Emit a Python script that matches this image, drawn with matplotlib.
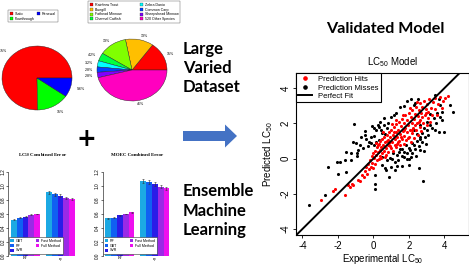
import numpy as np
import matplotlib
matplotlib.use('Agg')
import matplotlib.pyplot as plt
from matplotlib.patches import FancyArrow, Patch
from matplotlib.lines import Line2D

plt.rcParams['font.family'] = ['Liberation Sans', 'DejaVu Sans']
plt.rcParams['mathtext.default'] = 'regular'

# --- pie 1: test type
exp_labels = ['Static', 'Flowthrough', 'Renewal']
exp_pct = [75, 15, 9.6]
exp_colors = ['#FF0000', '#00FF00', '#0000FF']

# --- pie 2: species
sp_labels = ['Rainbow Trout', 'Bluegill', 'Fathead Minnow', 'Channel Catfish',
             'Zebra Danio', 'Common Carp', 'Sheepshead Minnow', '520 Other Species']
sp_pct = [15, 13, 13, 4.2, 3.2, 2.8, 2.8, 46]
sp_colors = ['#FF0000', '#FFBF00', '#80FF00', '#00FF40',
             '#00FFFF', '#0040FF', '#8000FF', '#FF00BF']

# --- bar charts
metric_labels = ['R²', 'r$_p$']
bar_colors = ['#1CA9E3', '#1060F2', '#2A1CE8', '#9A2AE6', '#EE10EE']

lc50_models = ['GBT', 'RF', 'SVR', 'Fast Method', 'Full Method']
lc50_r2 = [0.52, 0.55, 0.56, 0.59, 0.60]
lc50_rp = [0.91, 0.88, 0.86, 0.83, 0.82]
lc50_r2_err = [0.005, 0.005, 0.005, 0.005, 0.005]
lc50_rp_err = [0.025, 0.02, 0.02, 0.015, 0.015]

moec_models = ['RF', 'GBT', 'SVR', 'Fast Method', 'Full Method']
moec_r2 = [0.54, 0.55, 0.58, 0.60, 0.625]
moec_rp = [1.07, 1.06, 1.03, 0.99, 0.97]
moec_r2_err = [0.005, 0.005, 0.005, 0.005, 0.005]
moec_rp_err = [0.03, 0.025, 0.025, 0.02, 0.02]

# --- scatter: experimental vs predicted LC50
hits = [(-2.95, -2.33), (-2.3, -1.85), (-2.15, -1.72), (-1.62, -2.08), (-1.45, -1.5),
        (-1.3, -1.6), (-1.22, -1.42), (-1.15, -1.5), (-0.85, -1.2), (-0.75, -1.3),
        (-0.65, -0.95), (-0.55, -1.05), (-0.5, -0.7), (-0.42, -0.5), (-0.35, -0.85),
        (-0.3, -0.3), (-0.25, -0.6), (-0.2, -0.1), (-0.15, -0.45), (-0.1, 0.15),
        (-0.05, -0.25), (0.0, 0.3), (0.0, -0.55), (0.05, 0.05), (0.1, -0.3),
        (0.1, 0.45), (0.15, 0.2), (0.2, -0.1), (0.2, 0.65), (0.25, 0.35),
        (0.3, 0.0), (0.3, 0.85), (0.35, 0.5), (0.4, 0.15), (0.4, 1.0),
        (0.45, 0.65), (0.5, 0.3), (0.5, 1.1), (0.55, 0.8), (0.6, 0.45),
        (0.6, 1.25), (0.65, 0.95), (0.7, 0.2), (0.7, 0.6), (0.75, 1.35),
        (0.8, 0.75), (0.8, 1.05), (0.85, 0.4), (0.9, 1.5), (0.9, 0.9),
        (0.95, 1.2), (1.0, 0.6), (1.0, 1.65), (1.05, 0.95), (1.1, 1.35),
        (1.1, 0.45), (1.15, 1.8), (1.2, 0.8), (1.2, 1.1), (1.25, 1.5),
        (1.3, 0.65), (1.3, 1.95), (1.35, 1.25), (1.4, 0.95), (1.4, 1.65),
        (1.45, 2.1), (1.5, 1.4), (1.5, 0.75), (1.55, 1.85), (1.6, 1.1),
        (1.6, 2.25), (1.65, 1.55), (1.7, 0.85), (1.7, 2.0), (1.75, 1.3),
        (1.8, 1.75), (1.8, 2.45), (1.85, 1.05), (1.9, 1.5), (1.9, 2.2),
        (1.95, 1.9), (2.0, 1.25), (2.0, 2.6), (2.05, 1.65), (2.1, 2.35),
        (2.1, 0.95), (2.15, 2.0), (2.2, 1.45), (2.2, 2.75), (2.25, 1.75),
        (2.3, 2.25), (2.3, 1.15), (2.35, 2.55), (2.4, 1.6), (2.4, 2.95),
        (2.45, 2.0), (2.5, 1.35), (2.5, 2.4), (2.55, 2.75), (2.6, 1.8),
        (2.6, 3.15), (2.65, 2.2), (2.7, 2.6), (2.7, 1.55), (2.75, 2.95),
        (2.8, 2.0), (2.85, 3.3), (2.9, 2.45), (2.95, 2.8), (3.0, 1.9),
        (3.0, 3.1), (3.05, 2.3), (3.1, 2.65), (3.15, 3.4), (3.2, 2.1),
        (3.25, 2.9), (3.3, 2.5), (3.35, 3.2), (3.45, 2.8), (3.5, 3.45),
        (3.6, 2.5), (3.65, 3.1), (3.75, 3.5), (3.85, 2.9), (3.95, 3.3),
        (4.05, 3.45), (4.2, 3.55), (0.25, 0.75), (0.45, 0.05), (0.75, 1.0),
        (0.95, 0.7), (1.15, 1.5), (1.35, 0.85), (1.55, 1.2), (1.75, 1.6),
        (1.95, 1.15), (2.15, 1.65), (2.35, 1.9), (2.55, 2.1), (2.75, 2.35),
        (2.95, 2.6), (1.05, 1.95), (1.25, 2.2), (1.65, 2.5), (2.05, 2.9),
        (2.45, 3.2), (0.55, 1.5), (0.15, 0.9), (0.65, 0.1), (1.45, 1.0)]

misses = [(-3.65, -2.65), (-2.74, -2.04), (-2.55, -0.47), (-2.03, -0.19), (-1.99, -0.89),
          (-1.9, -0.22), (-1.56, -0.75), (-1.62, -0.09), (-1.52, 0.38), (-1.24, 0.29),
          (-1.24, -0.09), (-1.14, 0.95), (-1.11, 1.99), (-0.96, 0.86), (-0.92, 0.29),
          (-0.92, 0.14), (-0.86, 0.48), (-0.77, 0.76), (-0.7, 1.25), (-0.6, 0.6),
          (-0.49, 1.33), (-0.45, 1.55), (-0.39, 1.14), (-0.3, 0.7), (-0.24, 0.95),
          (-0.15, 1.2), (-0.11, 0.86), (-0.05, 1.85), (0.02, 0.76), (0.02, 1.71),
          (0.05, 1.3), (0.17, 1.61), (0.17, 0.95), (0.25, 1.9), (0.32, 1.8),
          (0.32, 1.05), (0.4, 2.1), (0.45, 1.65), (0.5, 1.45), (0.58, 1.9),
          (0.62, 2.28), (0.66, 1.42), (0.75, 1.75), (0.85, 2.05), (1.0, 2.35),
          (1.15, 2.5), (1.3, 2.6), (1.5, 2.95), (1.7, 3.0), (1.9, 3.26),
          (2.14, 3.36), (2.27, 3.03), (2.37, 3.17), (2.5, 3.4), (3.49, 3.6),
          (3.68, 3.41), (3.77, 3.03), (4.34, 3.03), (4.49, 2.62), (3.87, 2.66),
          (3.6, 2.6), (3.21, 2.56), (3.74, 2.37), (3.4, 2.3), (3.87, 2.18),
          (3.02, 2.09), (3.55, 2.0), (3.21, 1.9), (2.65, 1.9), (3.3, 1.75),
          (2.83, 1.71), (3.02, 1.61), (3.49, 1.61), (2.27, 1.61), (3.68, 1.52),
          (3.96, 1.52), (2.75, 1.45), (2.46, 1.42), (3.1, 1.35), (2.6, 1.25),
          (2.9, 1.2), (2.65, 1.14), (2.45, 1.0), (2.74, 0.95), (2.15, 0.9),
          (2.95, 0.85), (2.27, 0.76), (1.85, 0.75), (2.55, 0.7), (2.0, 0.6),
          (1.52, 0.57), (1.6, 0.55), (2.35, 0.55), (2.08, 0.48), (2.65, 0.48),
          (2.83, 0.44), (1.75, 0.4), (1.45, 0.35), (2.2, 0.3), (1.9, 0.29),
          (1.1, 0.3), (1.34, 0.19), (2.4, 0.15), (1.61, 0.15), (2.1, 0.1),
          (1.75, 0.1), (0.49, 0.1), (0.96, 0.04), (1.06, -0.03), (1.9, -0.03),
          (2.01, -0.05), (0.77, -0.09), (1.4, -0.1), (1.2, -0.2), (0.51, -0.34),
          (1.99, -0.38), (1.34, -0.41), (1.63, -0.43), (1.0, -0.47), (2.55, -0.53),
          (0.64, -0.56), (0.73, -0.62), (1.24, -0.62), (0.07, -0.94), (0.88, -1.07),
          (2.78, -1.27), (0.07, -1.47), (0.11, -1.7)]

W, H = 469, 265
fig = plt.figure(figsize=(W / 100, H / 100), dpi=100)


def px_axes(x0, y0, x1, y1):
    # axes from a pixel box (origin top-left)
    return fig.add_axes([x0 / W, 1 - y1 / H, (x1 - x0) / W, (y1 - y0) / H])


# overlay in pixel coords for the free text and arrow
ov = px_axes(0, 0, W, H)
ov.set_xlim(0, W)
ov.set_ylim(H, 0)
ov.axis('off')

big = dict(family=['Lato', 'DejaVu Sans'], fontweight='bold', fontsize=12,
           va='center', ha='left')
for i, s in enumerate(['Large', 'Varied', 'Dataset']):
    ov.text(183, 49 + 19 * i, s, **big)
for i, s in enumerate(['Ensemble', 'Machine', 'Learning']):
    ov.text(183, 191 + 19.5 * i, s, **big)
ov.text(385, 29, 'Validated Model', family=['Lato', 'DejaVu Sans'],
        fontweight='bold', fontsize=11.6, ha='center', va='center')
ov.text(86, 139, '+', family='DejaVu Sans', fontweight='bold', fontsize=17,
        ha='center', va='center')
ov.add_patch(FancyArrow(183, 136, 54, 0, width=10, head_width=23, head_length=12,
                        length_includes_head=True, color='#4472C4', lw=0))

tiny = 2.6


def draw_pie(cx, cy, rx, ry, vals, cols, labs, dist, leg_xy, colsp, fmt):
    ax = px_axes(cx - 1.4 * rx, cy - 1.4 * ry, cx + 1.4 * rx, cy + 1.4 * ry)
    wedges, texts = ax.pie(vals, colors=cols, startangle=0, counterclock=True,
                           labels=[fmt(v) for v in vals], labeldistance=dist,
                           wedgeprops=dict(edgecolor='#222222', linewidth=0.3),
                           textprops=dict(fontsize=tiny))
    ax.set_aspect('auto')
    ax.set_xlim(-1.4, 1.4)
    ax.set_ylim(-1.4, 1.4)
    handles = [Patch(facecolor=c, edgecolor='#222222', linewidth=0.2) for c in cols]
    ax.legend(handles, labs, ncol=2, loc='upper left', bbox_to_anchor=leg_xy,
              bbox_transform=ov.transData, fontsize=tiny, frameon=True,
              fancybox=False, edgecolor='#555555', framealpha=1,
              handlelength=0.9, handleheight=0.9, handletextpad=0.5,
              labelspacing=0.2, columnspacing=colsp, borderpad=0.5,
              borderaxespad=0).get_frame().set_linewidth(0.3)
    return ax


def pct_fmt(v):
    return '%d%%' % v if v >= 10 else '%.1f%%' % v


draw_pie(37, 78, 35, 32, exp_pct, exp_colors, exp_labels, 1.2, (8, 10), 0.6, pct_fmt)
draw_pie(132, 70, 35, 31, sp_pct, sp_colors, sp_labels, 1.12, (88, 1), 5.0, pct_fmt)


def draw_bars(x_zero, models, r2, rp, r2_err, rp_err, title):
    unit = 5.82
    ax = px_axes(x_zero + 0.56 * unit, 256 - 1.248 * 70, x_zero + 12.44 * unit,
                 256 + 0.048 * 70)
    for i, m in enumerate(models):
        ax.bar([1.5 + i, 7.5 + i], [r2[i], rp[i]], width=1, color=bar_colors[i],
               yerr=[r2_err[i], rp_err[i]], label=m,
               error_kw=dict(elinewidth=0.4, capsize=1.0, capthick=0.4,
                             ecolor='#333333'))
    ax.set_xlim(0.56, 12.44)
    ax.set_ylim(-0.048, 1.248)
    for sp in ['top', 'right', 'bottom']:
        ax.spines[sp].set_visible(False)
    ax.spines['left'].set_bounds(0, 1.2)
    ax.spines['left'].set_linewidth(0.4)
    ax.set_yticks(np.arange(0, 1.21, 0.2))
    ax.set_yticklabels(['%.1f' % t for t in np.arange(0, 1.21, 0.2)],
                       rotation=90, va='center', fontsize=3.4)
    ax.tick_params(axis='y', length=1.5, width=0.4, pad=0.7)
    ax.set_xticks([3.5, 9.5])
    ax.set_xticklabels(metric_labels, fontsize=3.3, family='Liberation Serif')
    ax.tick_params(axis='x', length=0, pad=-2.5)
    ax.patch.set_alpha(0)
    leg = ax.legend(ncol=2, loc='upper left', bbox_to_anchor=(x_zero + 3.5, 237),
                    bbox_transform=ov.transData, fontsize=tiny, frameon=True,
                    fancybox=False, edgecolor='#333333', framealpha=1,
                    handlelength=0.9, handleheight=0.9, handletextpad=0.6,
                    labelspacing=0.25, columnspacing=3.5, borderpad=0.45,
                    borderaxespad=0)
    leg.get_frame().set_linewidth(0.4)
    ov.text((x_zero + 0.56 * unit + x_zero + 12.44 * unit) / 2, 155, title,
            family='Liberation Serif', fontweight='bold', fontsize=3.6,
            ha='center', va='center')
    return ax


draw_bars(5.2, lc50_models, lc50_r2, lc50_rp, lc50_r2_err, lc50_rp_err,
          'LC$_{50}$ Combined Error')
draw_bars(99.5, moec_models, moec_r2, moec_rp, moec_r2_err, moec_rp_err,
          'MOEC Combined Error')

# scatter
axs = px_axes(296, 73.4, 468.5, 235)
mx, my = zip(*misses)
hx, hy = zip(*hits)
axs.scatter(mx, my, s=5, color='black', linewidths=0, zorder=2)
axs.scatter(hx, hy, s=5, color='red', linewidths=0, zorder=3)
axs.axline((0, 0), slope=1, color='black', lw=1.4, zorder=4)
axs.set_xlim(-4.36, 5.36)
axs.set_ylim(-4.34, 4.84)
ticks = [-4, -2, 0, 2, 4]
axs.set_xticks(ticks)
axs.set_yticks(ticks)
axs.set_xticklabels([str(t) for t in ticks], fontsize=7)
axs.set_yticklabels([str(t) for t in ticks], fontsize=7, rotation=90, va='center')
axs.tick_params(length=2.5, width=0.6, pad=1.5)
for sp in axs.spines.values():
    sp.set_linewidth(0.8)
axs.set_xlabel('Experimental LC$_{50}$', fontsize=7, labelpad=0.8)
axs.set_ylabel('Predicted LC$_{50}$', fontsize=7, labelpad=4)
ov.text(393, 62, 'LC$_{50}$ Model', fontsize=7, ha='center', va='center')
leg_handles = [Line2D([], [], marker='o', ls='none', color='red', markersize=2.3),
               Line2D([], [], marker='o', ls='none', color='black', markersize=2.3),
               Line2D([], [], color='black', lw=1.4)]
lg = axs.legend(leg_handles, ['Prediction Hits', 'Prediction Misses', 'Perfect Fit'],
                loc='upper left', borderaxespad=0, fontsize=5.5, fancybox=False,
                edgecolor='black', framealpha=1, handlelength=1.8,
                handletextpad=0.8, labelspacing=0.15, borderpad=0.3)
lg.get_frame().set_linewidth(0.8)

fig.savefig('out.png', dpi=100)
